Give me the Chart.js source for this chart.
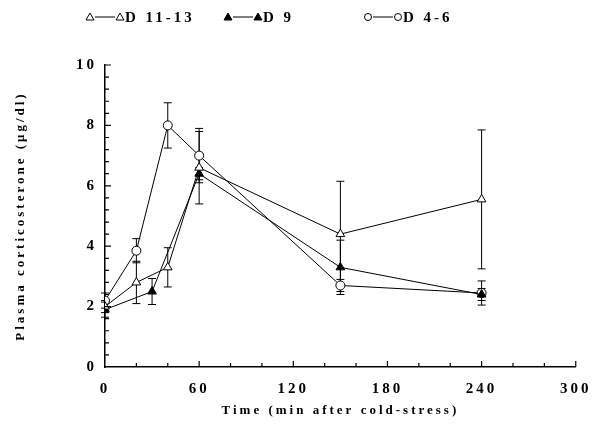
<!DOCTYPE html>
<html>
<head>
<meta charset="utf-8">
<script src="https://cdn.jsdelivr.net/npm/chart.js@4/dist/chart.umd.min.js"></script>
<style>
  html, body { margin: 0; padding: 0; background: #fff; }
</style>
</head>
<body>
<canvas id="chart" width="600" height="437"></canvas>
<script>
// Time points (min after cold-stress)
const timesD1113 = [0, 20, 40, 60, 150, 240]
const timesD9 = [0, 30, 60, 150, 240]
const timesD46 = [0, 20, 40, 60, 150, 240]

// Plasma corticosterone (ug/dl) and error bar half-widths
const valuesD1113 = [2.0, 2.8, 3.3, 6.6, 4.4, 5.55]
const errorsD1113 = [0.2, 0.7, 0.65, 1.2, 1.75, 2.3]
const valuesD9 = [1.9, 2.5, 6.4, 3.3, 2.4]
const errorsD9 = [0.25, 0.43, 0.2, 0.9, 0.2]
const valuesD46 = [2.2, 3.85, 8.0, 7.0, 2.7, 2.45]
const errorsD46 = [0.25, 0.4, 0.75, 0.9, 0.2, 0.4]

const labelD1113 = "D 11-13"
const labelD9 = "D 9"
const labelD46 = "D 4-6"

const FONT = "'Liberation Serif', 'DejaVu Serif', serif"

function toPoints(xs, ys) {
  return xs.map((x, i) => ({ x: x, y: ys[i] }))
}

// error bars drawn under the markers
const errorBars = {
  id: "errorBars",
  beforeDatasetsDraw(chart) {
    const ctx = chart.ctx
    const yScale = chart.scales.y
    ctx.save()
    ctx.strokeStyle = "#000"
    ctx.lineWidth = 1
    chart.data.datasets.forEach((ds, i) => {
      const meta = chart.getDatasetMeta(i)
      meta.data.forEach((pt, j) => {
        const v = ds.data[j].y
        const e = ds.errors[j]
        const top = yScale.getPixelForValue(v + e)
        const bot = yScale.getPixelForValue(v - e)
        ctx.beginPath()
        ctx.moveTo(pt.x, top)
        ctx.lineTo(pt.x, bot)
        ctx.moveTo(pt.x - 4, top)
        ctx.lineTo(pt.x + 4, top)
        ctx.moveTo(pt.x - 4, bot)
        ctx.lineTo(pt.x + 4, bot)
        ctx.stroke()
      })
    })
    ctx.restore()
  },
}

// tick marks pointing into the plot
const innerTicks = {
  id: "innerTicks",
  afterDraw(chart) {
    const ctx = chart.ctx
    const { x, y } = chart.scales
    ctx.save()
    ctx.strokeStyle = "#000"
    ctx.lineWidth = 1.2
    ctx.beginPath()
    x.ticks.forEach((t) => {
      if (t.value === 0) return
      const px = x.getPixelForValue(t.value)
      const len = t.value % 60 === 0 ? 6 : 4
      ctx.moveTo(px, x.top)
      ctx.lineTo(px, x.top - len)
    })
    y.ticks.forEach((t) => {
      if (Math.abs(t.value) < 1e-6) return
      const py = y.getPixelForValue(t.value)
      const major = Math.abs(t.value / 2 - Math.round(t.value / 2)) < 1e-6
      const len = major ? 6 : 4
      ctx.moveTo(y.right, py)
      ctx.lineTo(y.right + len, py)
    })
    ctx.stroke()
    ctx.restore()
  },
}

// legend across the top: marker, line, marker, label
const legendStarts = [90, 228, 368]
const legendTop = {
  id: "legendTop",
  afterDraw(chart) {
    const ctx = chart.ctx
    ctx.save()
    ctx.strokeStyle = "#000"
    ctx.fillStyle = "#000"
    ctx.lineWidth = 1
    const cy = 17
    chart.data.datasets.forEach((ds, i) => {
      const x1 = legendStarts[i]
      const x2 = x1 + 30
      const mark = (cx) => {
        ctx.beginPath()
        if (ds.pointStyle === "circle") {
          ctx.arc(cx, cy, 3.5, 0, Math.PI * 2)
        } else {
          ctx.moveTo(cx, cy - 4)
          ctx.lineTo(cx - 4, cy + 3)
          ctx.lineTo(cx + 4, cy + 3)
          ctx.closePath()
        }
        if (ds.pointBackgroundColor === "#000") ctx.fill()
        ctx.stroke()
      }
      mark(x1)
      mark(x2)
      ctx.beginPath()
      ctx.moveTo(x1 + 5, cy)
      ctx.lineTo(x2 - 5, cy)
      ctx.stroke()
      ctx.font = "bold 15px " + FONT
      ctx.letterSpacing = "3px"
      ctx.textBaseline = "middle"
      ctx.textAlign = "left"
      ctx.fillText(ds.label, x2 + 5, cy + 1)
    })
    ctx.restore()
  },
}

const spacing = {
  id: "spacing",
  beforeDraw(chart) {
    chart.ctx.letterSpacing = "3px"
  },
}

const baseDataset = {
  borderColor: "#000",
  borderWidth: 1,
  pointBorderColor: "#000",
  pointBorderWidth: 1,
  pointRadius: 5,
  tension: 0,
  fill: false,
}

new Chart(document.getElementById("chart"), {
  type: "line",
  data: {
    datasets: [
      {
        ...baseDataset,
        label: labelD1113,
        data: toPoints(timesD1113, valuesD1113),
        errors: errorsD1113,
        pointStyle: "triangle",
        pointBackgroundColor: "#fff",
      },
      {
        ...baseDataset,
        label: labelD9,
        data: toPoints(timesD9, valuesD9),
        errors: errorsD9,
        pointStyle: "triangle",
        pointBackgroundColor: "#000",
      },
      {
        ...baseDataset,
        label: labelD46,
        data: toPoints(timesD46, valuesD46),
        errors: errorsD46,
        pointStyle: "circle",
        pointRadius: 4.5,
        pointBackgroundColor: "#fff",
      },
    ],
  },
  options: {
    responsive: false,
    animation: false,
    layout: {
      padding: { top: 65, right: 21, left: 0, bottom: 0 },
    },
    plugins: {
      legend: { display: false },
      title: { display: false },
      tooltip: { enabled: false },
    },
    scales: {
      x: {
        type: "linear",
        min: 0,
        max: 300,
        afterFit: (scale) => {
          scale.height = 70
        },
        ticks: {
          stepSize: 20,
          autoSkip: false,
          maxRotation: 0,
          padding: 13,
          color: "#000",
          font: { family: FONT, size: 15, weight: "bold" },
          callback: (v) => (v % 60 === 0 ? v : ""),
        },
        grid: { display: true, drawOnChartArea: false, drawTicks: false },
        border: { display: true, color: "#000", width: 1.5 },
        title: {
          display: true,
          text: "Time (min after cold-stress)",
          color: "#000",
          font: { family: FONT, size: 13, weight: "bold" },
          padding: { top: 0, bottom: 19 },
        },
      },
      y: {
        type: "linear",
        min: 0,
        max: 10,
        afterFit: (scale) => {
          scale.width = 105
        },
        ticks: {
          stepSize: 0.4,
          autoSkip: false,
          padding: 8,
          color: "#000",
          font: { family: FONT, size: 15, weight: "bold" },
          callback: (v) => (Math.abs(v / 2 - Math.round(v / 2)) < 1e-6 ? Math.round(v) : ""),
        },
        grid: { display: true, drawOnChartArea: false, drawTicks: false },
        border: { display: true, color: "#000", width: 1.5 },
        title: {
          display: true,
          text: "Plasma corticosterone (\u03bcg/dl)",
          color: "#000",
          font: { family: FONT, size: 13, weight: "bold" },
          padding: { top: 13, bottom: 0 },
        },
      },
    },
  },
  plugins: [spacing, errorBars, innerTicks, legendTop],
})
</script>
</body>
</html>
